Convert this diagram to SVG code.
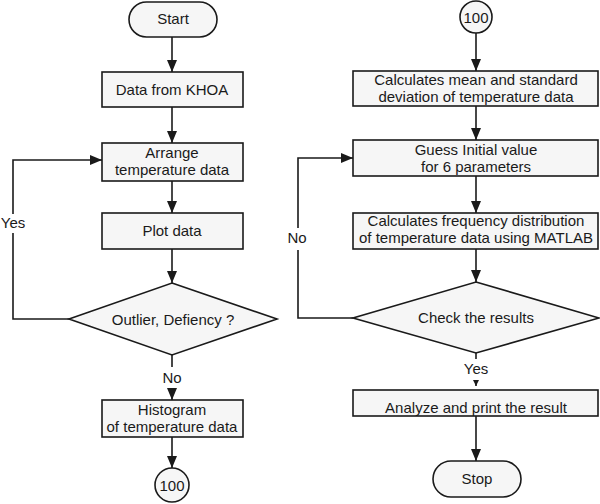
<svg xmlns="http://www.w3.org/2000/svg" width="600" height="504" viewBox="0 0 600 504">
<style>
.n{fill:#f6f6f6;stroke:#1a1a1a;stroke-width:1.6}
.t{font-family:"Liberation Sans",Arial,sans-serif;font-size:15px;fill:#1a1a1a;text-anchor:middle}
.c{fill:none;stroke:#1a1a1a;stroke-width:1.6}
.a{marker-end:url(#ah)}
</style>
<defs>
<marker id="ah" viewBox="0 0 12 10" refX="12" refY="5" markerWidth="12" markerHeight="10" markerUnits="userSpaceOnUse" orient="auto">
<path d="M0,0 L12,5 L0,10 Z" fill="#1a1a1a"/>
</marker>
<marker id="sh" viewBox="0 0 6 6" refX="6" refY="3" markerWidth="6" markerHeight="6" markerUnits="userSpaceOnUse" orient="auto">
<path d="M0,0 L6,3 L0,6 Z" fill="#1a1a1a"/>
</marker>
</defs>
<rect width="600" height="504" fill="#ffffff"/>
<g id="connectors">
<line class="c a" x1="172" y1="37" x2="172" y2="72"/>
<line class="c a" x1="172" y1="107" x2="172" y2="143"/>
<line class="c a" x1="172" y1="181" x2="172" y2="213"/>
<line class="c a" x1="172" y1="249" x2="172" y2="283"/>
<line class="c" x1="172" y1="355" x2="172" y2="367"/>
<line class="c a" x1="172" y1="388" x2="172" y2="400"/>
<line class="c a" x1="172" y1="437" x2="172" y2="468"/>
<polyline class="c" points="69,319 13,319 13,233"/>
<polyline class="c a" points="13,214 13,160 102,160"/>
<line class="c a" x1="476" y1="33" x2="476" y2="71"/>
<line class="c a" x1="476" y1="106" x2="476" y2="140"/>
<line class="c a" x1="476" y1="176" x2="476" y2="213"/>
<line class="c a" x1="476" y1="249" x2="476" y2="282"/>
<line class="c" x1="476" y1="353" x2="476" y2="359"/>
<line class="c" x1="476" y1="380" x2="476" y2="386" marker-end="url(#sh)"/>
<line class="c a" x1="476" y1="416" x2="476" y2="461"/>
<polyline class="c" points="353,318 298,318 298,250"/>
<polyline class="c a" points="298,228 298,158 353,158"/>
<text class="t" x="13" y="228">Yes</text>
<text class="t" x="172" y="383">No</text>
<text class="t" x="297" y="243">No</text>
<text class="t" x="476" y="374">Yes</text>
</g>
<g id="start">
<rect class="n" x="129" y="2" width="88" height="35" rx="17.5"/>
<text class="t" x="173" y="24">Start</text>
</g>
<g id="khoa">
<rect class="n" x="102" y="72" width="141" height="35"/>
<text class="t" x="172" y="95">Data from KHOA</text>
</g>
<g id="arrange">
<rect class="n" x="102" y="143" width="141" height="38"/>
<text class="t" x="172" y="157.5">Arrange</text>
<text class="t" x="172" y="174.5">temperature data</text>
</g>
<g id="plot">
<rect class="n" x="102" y="213" width="141" height="36"/>
<text class="t" x="172" y="236">Plot data</text>
</g>
<g id="outlier">
<polygon class="n" points="172,283 277,319 172,355 69,319"/>
<text class="t" x="173" y="324.5">Outlier, Defiency ?</text>
</g>
<g id="histogram">
<rect class="n" x="102" y="400" width="141" height="37"/>
<text class="t" x="172" y="414.5">Histogram</text>
<text class="t" x="172" y="432">of temperature data</text>
</g>
<g id="c100a">
<circle class="n" cx="172" cy="485" r="17"/>
<text class="t" x="172" y="490.5">100</text>
</g>
<g id="c100b">
<circle class="n" cx="476" cy="17" r="16"/>
<text class="t" x="476" y="22.5">100</text>
</g>
<g id="mean">
<rect class="n" x="353" y="71" width="245" height="35"/>
<text class="t" x="476" y="84.5">Calculates mean and standard</text>
<text class="t" x="476" y="102">deviation of temperature data</text>
</g>
<g id="guess">
<rect class="n" x="353" y="140" width="245" height="36"/>
<text class="t" x="476" y="154.5">Guess Initial value</text>
<text class="t" x="476" y="172">for 6 parameters</text>
</g>
<g id="freq">
<rect class="n" x="353" y="213" width="245" height="36"/>
<text class="t" x="476" y="225.5">Calculates frequency distribution</text>
<text class="t" x="476" y="243">of temperature data using MATLAB</text>
</g>
<g id="check">
<polygon class="n" points="476,282 599,318 476,353 353,318"/>
<text class="t" x="476" y="322.5">Check the results</text>
</g>
<g id="analyze">
<rect class="n" x="353" y="390" width="245" height="26"/>
<text class="t" x="476" y="412.5">Analyze and print  the result</text>
</g>
<g id="stop">
<rect class="n" x="433" y="461" width="88" height="36" rx="18"/>
<text class="t" x="477" y="483.5">Stop</text>
</g>
</svg>
